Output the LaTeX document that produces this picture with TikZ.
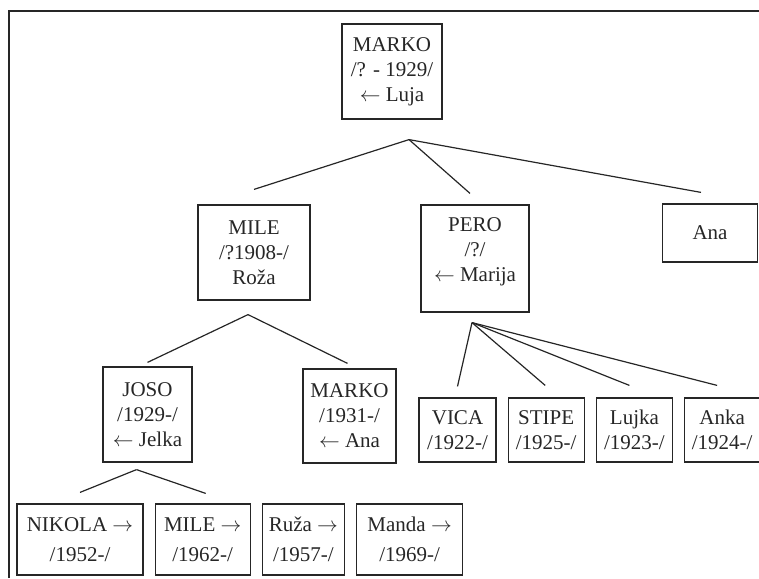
\documentclass[tikz,border=0pt]{standalone}
\usepackage{fontspec}
\setmainfont{Liberation Serif}
\usetikzlibrary{positioning}

\begin{document}
\begin{tikzpicture}[
        x=1pt, y=-1pt,
        node distance=11pt,
        person/.style={rectangle, draw=black!85, line width=1.2pt, align=center, inner sep=2pt, text=black!85, font=\fontsize{21}{25}\selectfont},
        lastrow/.style={person, minimum height=71pt, font=\fontsize{21}{30}\selectfont},
        link/.style={draw=black!85, line width=1.2pt}
    ]
    \useasboundingbox (0,0) rectangle (759,578);
    \draw[link] (9,578) -- (9,11) -- (759,11);

    \node[person, minimum width=100pt, minimum height=95pt] (marko) at (392,71.5) {MARKO\\/? - 1929/\\$\leftarrow$ Luja};

    \node[person, minimum width=112pt, minimum height=95pt] (mile) at (254,252.5) {MILE\\/?1908-/\\Roža};
    \node[person, minimum width=108pt, minimum height=107pt, text depth=17pt] (pero) at (475,258.5) {PERO\\/?/\\$\leftarrow$ Marija};
    \node[person, minimum width=95pt, minimum height=58pt] (ana) at (710,233) {Ana};

    \node[person, minimum width=89pt, minimum height=95pt] (joso) at (147.5,414.5) {JOSO\\/1929-/\\$\leftarrow$ Jelka};
    \node[person, minimum width=93pt, minimum height=94pt] (marko2) at (349.5,416) {MARKO\\/1931-/\\$\leftarrow$ Ana};

    \node[person, minimum width=77pt, minimum height=64pt] (vica) at (457.5,430) {VICA\\/1922-/};
    \node[person, minimum width=76pt, minimum height=64pt, right=of vica] (stipe) {STIPE\\/1925-/};
    \node[person, minimum width=76pt, minimum height=64pt, right=of stipe] (lujka) {Lujka\\/1923-/};
    \node[person, minimum width=75pt, minimum height=64pt, right=of lujka] (anka) {Anka\\/1924-/};

    \node[lastrow, minimum width=126pt] (nikola) at (80,539.5) {NIKOLA $\rightarrow$\\/1952-/};
    \node[lastrow, minimum width=95pt, right=of nikola] (mile2) {MILE $\rightarrow$\\/1962-/};
    \node[lastrow, minimum width=82pt, right=of mile2] (ruza) {Ruža $\rightarrow$\\/1957-/};
    \node[lastrow, minimum width=106pt, right=of ruza] (manda) {Manda $\rightarrow$\\/1969-/};

    \coordinate (marko-fork) at ([xshift=17pt,yshift=-20pt]marko.south);
    \coordinate (mile-fork) at ([xshift=-6pt,yshift=-14pt]mile.south);
    \coordinate (pero-fork) at ([xshift=-3pt,yshift=-10pt]pero.south);
    \coordinate (joso-fork) at ([xshift=-11pt,yshift=-7pt]joso.south);

    \draw[link] (marko-fork) -- ([yshift=15pt]mile.north);
    \draw[link] (marko-fork) -- ([xshift=-5pt,yshift=11pt]pero.north);
    \draw[link] (marko-fork) -- ([xshift=-9pt,yshift=11pt]ana.north);

    \draw[link] (mile-fork) -- ([yshift=4pt]joso.north);
    \draw[link] (mile-fork) -- ([xshift=-2pt,yshift=5pt]marko2.north);

    \draw[link] (pero-fork) -- ([yshift=11pt]vica.north);
    \draw[link] (pero-fork) -- ([xshift=-1pt,yshift=12pt]stipe.north);
    \draw[link] (pero-fork) -- ([xshift=-5pt,yshift=12pt]lujka.north);
    \draw[link] (pero-fork) -- ([xshift=-5pt,yshift=12pt]anka.north);

    \draw[link] (joso-fork) -- ([yshift=11pt]nikola.north);
    \draw[link] (joso-fork) -- ([xshift=3pt,yshift=10pt]mile2.north);

\end{tikzpicture}
\end{document}
